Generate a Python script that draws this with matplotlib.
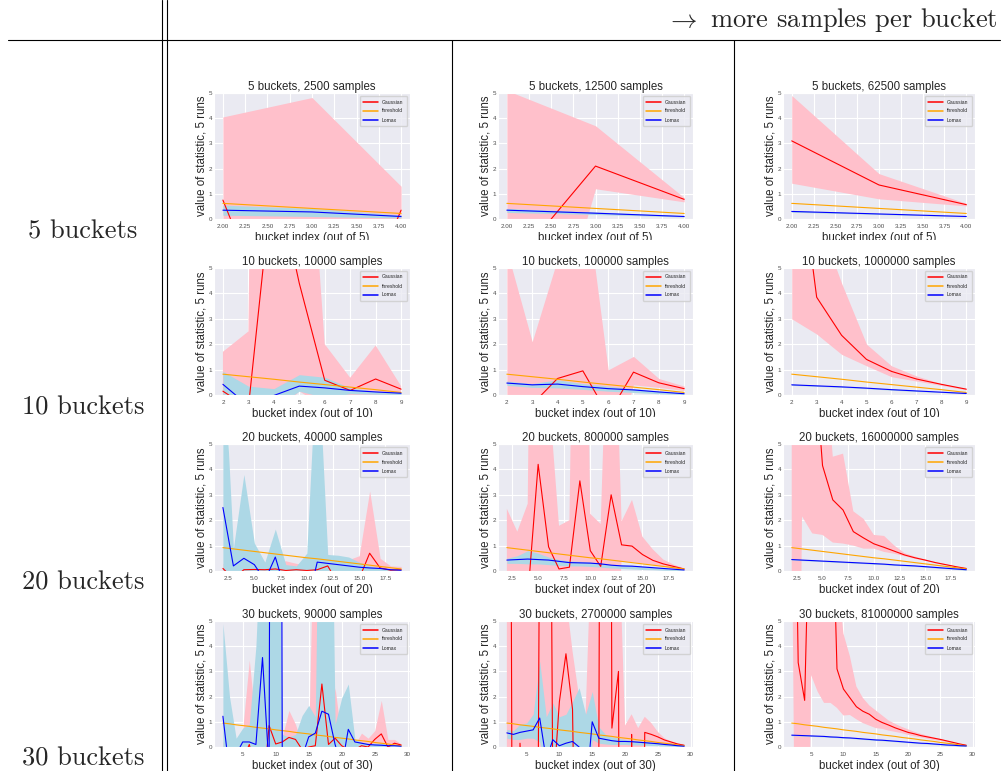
import matplotlib
matplotlib.use("Agg")
import matplotlib.pyplot as plt
from matplotlib.lines import Line2D
from matplotlib.transforms import Bbox, TransformedBbox
import seaborn as sns

# bucket indices per bucket count
x_5 = [2, 3, 4]
x_10 = list(range(2, 10))
x_20 = list(range(2, 20))
x_30 = list(range(2, 30))

# threshold curves
thresh_5 = [0.62, 0.42, 0.22]
thresh_10 = [0.82, 0.72, 0.62, 0.51, 0.41, 0.31, 0.21, 0.10]
thresh_20 = [0.92, 0.87, 0.82, 0.77, 0.72, 0.67, 0.62, 0.57, 0.52, 0.48, 0.43, 0.38,
             0.33, 0.28, 0.23, 0.18, 0.13, 0.08]
thresh_30 = [0.95, 0.92, 0.88, 0.85, 0.82, 0.78, 0.75, 0.72, 0.68, 0.65, 0.62, 0.58,
             0.55, 0.52, 0.48, 0.45, 0.42, 0.38, 0.35, 0.32, 0.28, 0.25, 0.22, 0.18,
             0.15, 0.12, 0.08, 0.05]

# 5 buckets, 2500 samples
a_g = [0.75, -8.0, 0.35]
a_g_lo = [-2.0, -10.0, -0.5]
a_g_hi = [4.05, 4.82, 1.30]
a_l = [0.35, 0.28, 0.10]
a_l_lo = [0.15, 0.10, 0.04]
a_l_hi = [0.55, 0.42, 0.16]

# 5 buckets, 12500 samples
b_g = [-2.1, 2.1, 0.78]
b_g_lo = [-10.8, 1.2, 0.68]
b_g_hi = [5.1, 3.7, 0.85]
b_l = [0.35, 0.23, 0.10]
b_l_lo = [0.26, 0.18, 0.08]
b_l_hi = [0.42, 0.28, 0.13]

# 5 buckets, 62500 samples
c_g = [3.1, 1.35, 0.57]
c_g_lo = [1.42, 0.80, 0.52]
c_g_hi = [4.9, 1.8, 0.62]
c_l = [0.30, 0.20, 0.10]
c_l_lo = [0.27, 0.18, 0.09]
c_l_hi = [0.33, 0.22, 0.11]

# 10 buckets, 10000 samples
d_g = [0.15, -0.5, 9.0, 4.4, 0.58, 0.18, 0.63, 0.23]
d_g_lo = [-1.0, -1.5, -1.0, 0.15, -0.5, -0.2, -0.3, -0.1]
d_g_hi = [1.7, 2.5, 80.0, 16.3, 2.0, 0.68, 1.95, 0.35]
d_l = [0.42, -0.42, -0.02, 0.35, 0.28, 0.18, 0.12, 0.07]
d_l_lo = [-0.5, -1.0, -0.5, 0.15, -0.1, 0.05, 0.03, 0.02]
d_l_hi = [0.93, 0.35, 0.25, 0.80, 0.70, 0.28, 0.15, 0.10]

# 10 buckets, 100000 samples
e_g = [-2.0, -0.37, 0.65, 0.95, -0.78, 0.90, 0.48, 0.25]
e_g_lo = [-3.0, -2.0, -1.0, -0.5, -3.0, 0.40, 0.30, 0.18]
e_g_hi = [5.7, 2.1, 5.35, 8.7, 0.99, 1.52, 0.65, 0.35]
e_l = [0.47, 0.40, 0.43, 0.33, 0.25, 0.20, 0.12, 0.05]
e_l_lo = [0.38, 0.30, 0.28, 0.22, 0.15, 0.10, 0.05, 0.02]
e_l_hi = [0.55, 0.45, 0.60, 0.45, 0.35, 0.25, 0.15, 0.08]

# 10 buckets, 1000000 samples
f_g = [11.5, 3.85, 2.35, 1.40, 0.93, 0.63, 0.42, 0.23]
f_g_lo = [3.0, 2.4, 1.6, 1.15, 0.72, 0.55, 0.38, 0.20]
f_g_hi = [9.0, 7.1, 4.4, 2.0, 1.15, 0.75, 0.45, 0.25]
f_l = [0.40, 0.36, 0.32, 0.27, 0.21, 0.16, 0.11, 0.06]
f_l_lo = [0.38, 0.34, 0.30, 0.25, 0.19, 0.14, 0.10, 0.05]
f_l_hi = [0.43, 0.38, 0.34, 0.29, 0.23, 0.18, 0.12, 0.07]

# 20 buckets, 40000 samples
g_g = [0.10, -0.3, 0.05, 0.06, 0.05, 0.08, 0.02, 0.05, 0.02, 0.05, 0.20, -0.5,
       -0.5, -0.3, 0.70, 0.12, 0.03, 0.05]
g_g_lo = [-0.4, -0.6, -0.3, -0.3, -0.3, -0.3, -0.3, -0.3, -0.3, -0.3, -0.2, -0.8,
          -0.8, -0.6, -0.2, -0.2, -0.2, -0.1]
g_g_hi = [0.30, 0.20, 0.25, 0.30, 0.20, 0.35, 0.40, 0.30, 0.25, 0.30, 0.35, 0.20,
          0.45, 0.60, 3.15, 0.50, 0.20, 0.18]
g_l = [2.5, 0.2, 0.5, 0.25, -0.375, 0.55, -0.85, -1.0, -1.4, 0.35, 0.30, 0.25,
       0.20, 0.15, 0.12, 0.10, 0.05, 0.03]
g_l_lo = [-0.5, -0.5, -0.3, -0.3, -0.8, -0.3, -1.2, -1.5, -2.0, -0.2, -0.1, -0.1,
          -0.1, -0.1, -0.1, -0.05, -0.05, -0.05]
g_l_hi = [9.0, 0.9, 3.8, 1.1, 0.35, 1.65, 0.25, 0.2, 0.7, 9.0, 0.65, 0.62,
          0.55, 0.35, 0.20, 0.12, 0.10, 0.08]

# 20 buckets, 800000 samples
h_g = [-2.0, -1.5, -1.05, 4.2, 0.95, 0.08, 0.15, 3.55, 0.80, 0.18, 3.0, 1.03,
       0.98, 0.65, 0.42, 0.28, 0.18, 0.08]
h_g_lo = [-3.0, -3.0, -3.0, -1.0, -0.5, -0.5, -0.5, -0.5, -0.5, -0.5, -8.0, 0.40,
          0.35, 0.30, 0.25, 0.18, 0.10, 0.05]
h_g_hi = [2.45, 1.55, 2.65, 40.0, 7.15, 1.78, 2.0, 30.0, 2.25, 1.85, 15.0, 1.95,
          2.8, 1.35, 0.85, 0.45, 0.25, 0.10]
h_l = [0.43, 0.45, 0.47, 0.45, 0.43, 0.38, 0.33, 0.32, 0.31, 0.28, 0.23, 0.20,
       0.19, 0.16, 0.13, 0.10, 0.07, 0.04]
h_l_lo = [0.30, 0.30, 0.28, 0.28, 0.25, 0.22, 0.20, 0.20, 0.18, 0.15, 0.12, 0.10,
          0.08, 0.06, 0.05, 0.03, 0.02, 0.01]
h_l_hi = [0.50, 0.60, 0.80, 0.70, 0.55, 0.45, 0.40, 0.38, 0.35, 0.30, 0.25, 0.25,
          0.22, 0.18, 0.15, 0.10, 0.07, 0.04]

# 20 buckets, 16000000 samples
i_g = [12.0, 20.0, 9.5, 4.15, 2.8, 2.4, 1.55, 1.3, 1.07, 0.93, 0.78, 0.63,
       0.52, 0.43, 0.33, 0.25, 0.17, 0.10]
i_g_lo = [-40.0, 2.15, 1.48, 1.42, 1.12, 1.08, 1.0, 0.88, 0.88, 0.75, 0.68, 0.58,
          0.48, 0.40, 0.32, 0.24, 0.16, 0.08]
i_g_hi = [30.0, 30.0, 20.0, 9.5, 4.5, 4.62, 2.35, 2.05, 1.42, 1.38, 1.0, 0.70,
          0.57, 0.45, 0.35, 0.27, 0.18, 0.10]
i_l = [0.45, 0.43, 0.41, 0.39, 0.37, 0.35, 0.33, 0.31, 0.29, 0.27, 0.24, 0.22,
       0.20, 0.17, 0.14, 0.11, 0.08, 0.05]
i_l_lo = [0.43, 0.41, 0.39, 0.37, 0.35, 0.33, 0.31, 0.29, 0.27, 0.25, 0.22, 0.20,
          0.18, 0.15, 0.12, 0.09, 0.06, 0.03]
i_l_hi = [0.47, 0.45, 0.43, 0.41, 0.39, 0.37, 0.35, 0.33, 0.31, 0.29, 0.26, 0.24,
          0.22, 0.19, 0.16, 0.13, 0.10, 0.07]

# 30 buckets, 90000 samples
j_g = [-1.0, -1.0, -1.0, -0.5, 0.10, -1.0, -2.0, 0.85, 0.12, 0.20, 0.38, 0.30,
       -0.10, 0.0, 0.05, 2.5, 0.10, 0.35, 0.05, -0.10, -0.10, 0.05, 0.0, 0.30,
       0.52, 0.0, 0.15, 0.08]
j_g_lo = [-2.0, -2.0, -2.0, -1.0, -0.5, -2.0, -3.0, -0.5, -0.5, -0.5, -0.5, -0.5,
          -1.0, -1.0, -0.5, -0.5, -0.5, -0.5, -0.5, -1.0, -1.0, -0.5, -0.5, -0.5,
          -0.5, -0.5, -0.3, -0.2]
j_g_hi = [0.2, 0.2, 0.1, 0.7, 3.45, 0.8, 0.5, 0.9, 0.3, 0.4, 1.45, 0.9,
          0.1, 0.3, 12.0, 3.0, 0.15, 2.35, 0.25, 0.2, 0.1, 0.55, 0.35, 0.65,
          1.85, 0.3, 0.3, 0.12]
j_l = [1.22, -1.0, -0.3, 0.20, 0.20, 0.10, 3.55, -0.89, 100.0, -1.0, -1.0, -1.0,
       -0.4, 0.40, 0.55, 1.42, 1.30, 0.10, -0.80, 0.70, 0.20, 0.15, 0.10, 0.08,
       0.07, 0.05, 0.05, 0.03]
j_l_lo = [-1.0, -2.0, -1.0, -0.5, -0.5, -0.5, -0.5, -2.0, -1.0, -2.0, -2.0, -2.0,
          -1.0, -0.5, -0.5, -0.5, -0.5, -1.0, -1.5, -0.5, -0.3, -0.2, -0.2, -0.1,
          -0.1, -0.1, -0.1, -0.1]
j_l_hi = [4.9, 2.0, 0.35, 0.75, 0.9, 4.0, 10.0, 20.0, 20.0, 0.5, 0.4, 0.5,
          1.25, 1.65, 1.2, 20.0, 20.0, 0.9, 1.95, 2.5, 0.3, 0.2, 0.15, 0.15,
          0.15, 0.1, 0.08, 0.05]

# 30 buckets, 2700000 samples
k_g = [60.0, -20.0, 0.15, -5.0, -40.0, 10.0, 40.0, -2.0, 1.8, 3.7, 1.5, -15.0,
       -15.0, -10.0, -1.0, 80.0, 0.75, 3.0, -60.0, 0.5, -30.0, 0.58, 0.50, 0.40,
       0.28, 0.20, 0.12, 0.07]
k_g_lo = [-30.0, -30.0, -10.0, -10.0, -50.0, -5.0, -5.0, -5.0, -1.0, -1.0, -1.0, -20.0,
          -20.0, -15.0, -5.0, -5.0, -1.0, -1.0, -70.0, -1.0, -40.0, 0.20, 0.15, 0.12,
          0.10, 0.08, 0.05, 0.03]
k_g_hi = [70.0, 9.0, 9.0, 9.0, 9.0, 15.0, 50.0, 9.0, 9.0, 6.0, 3.8, 2.0,
          1.3, 9.0, 9.0, 90.0, 9.0, 9.0, 0.85, 1.3, 0.75, 1.2, 0.95, 0.60,
          0.35, 0.22, 0.15, 0.08]
k_l = [0.56, 0.50, 0.58, 0.63, 0.68, 1.15, -0.5, 0.29, 0.05, 0.15, 0.22, 0.0,
       -2.0, 1.0, 0.35, 0.30, 0.25, 0.22, 0.22, 0.21, 0.19, 0.17, 0.15, 0.13,
       0.10, 0.08, 0.05, 0.03]
k_l_lo = [0.35, 0.30, 0.30, 0.35, 0.35, 0.20, -1.0, -0.3, -0.5, -0.3, -0.3, -0.5,
          -3.0, 0.30, 0.15, 0.12, 0.10, 0.10, 0.10, 0.08, 0.08, 0.07, 0.06, 0.05,
          0.04, 0.03, 0.02, 0.01]
k_l_hi = [0.70, 0.65, 0.90, 0.95, 1.30, 3.40, 1.20, 1.75, 1.20, 1.30, 1.80, 2.35,
          1.30, 2.20, 0.80, 0.50, 0.40, 0.35, 0.30, 0.28, 0.25, 0.22, 0.20, 0.17,
          0.14, 0.11, 0.07, 0.04]

# 30 buckets, 81000000 samples
l_g = [20.0, 3.35, 1.85, 12.35, 15.0, 12.0, 12.6, 3.1, 2.3, 1.95, 1.6, 1.42,
       1.3, 1.1, 0.97, 0.87, 0.76, 0.67, 0.58, 0.52, 0.45, 0.40, 0.35, 0.30,
       0.24, 0.18, 0.12, 0.07]
l_g_lo = [10.0, -20.0, -20.0, 2.85, 2.2, 1.75, 1.75, 1.55, 1.25, 1.27, 1.1, 0.95,
          0.85, 0.75, 0.72, 0.65, 0.60, 0.55, 0.48, 0.42, 0.38, 0.33, 0.28, 0.24,
          0.20, 0.15, 0.10, 0.06]
l_g_hi = [30.0, 30.0, 30.0, 30.0, 30.0, 20.0, 12.0, 7.0, 4.5, 3.6, 2.4, 1.95,
          1.65, 1.45, 1.25, 1.05, 0.92, 0.80, 0.70, 0.60, 0.52, 0.45, 0.38, 0.32,
          0.26, 0.20, 0.13, 0.08]
l_l = [0.47, 0.46, 0.45, 0.44, 0.43, 0.42, 0.40, 0.39, 0.37, 0.36, 0.34, 0.32,
       0.30, 0.28, 0.27, 0.25, 0.23, 0.21, 0.19, 0.17, 0.15, 0.14, 0.12, 0.10,
       0.08, 0.07, 0.05, 0.04]
l_l_lo = [0.45, 0.44, 0.43, 0.42, 0.41, 0.40, 0.38, 0.37, 0.35, 0.34, 0.32, 0.30,
          0.28, 0.26, 0.25, 0.23, 0.21, 0.19, 0.17, 0.15, 0.13, 0.12, 0.10, 0.08,
          0.06, 0.05, 0.03, 0.02]
l_l_hi = [0.49, 0.48, 0.47, 0.46, 0.45, 0.44, 0.42, 0.41, 0.39, 0.38, 0.36, 0.34,
          0.32, 0.30, 0.29, 0.27, 0.25, 0.23, 0.21, 0.19, 0.17, 0.16, 0.14, 0.12,
          0.10, 0.09, 0.07, 0.06]

bucket_counts = [5, 10, 20, 30]
sample_counts = [[2500, 12500, 62500],
                 [10000, 100000, 1000000],
                 [40000, 800000, 16000000],
                 [90000, 2700000, 81000000]]
row_labels = ["5 buckets", "10 buckets", "20 buckets", "30 buckets"]
header = r"$\rightarrow$ more samples per bucket"

xticks = {5: [2.0, 2.25, 2.5, 2.75, 3.0, 3.25, 3.5, 3.75, 4.0],
          10: [2, 3, 4, 5, 6, 7, 8, 9],
          20: [2.5, 5.0, 7.5, 10.0, 12.5, 15.0, 17.5],
          30: [5, 10, 15, 20, 25, 30]}
xs = {5: x_5, 10: x_10, 20: x_20, 30: x_30}
ths = {5: thresh_5, 10: thresh_10, 20: thresh_20, 30: thresh_30}

panels = [[(a_g, a_g_lo, a_g_hi, a_l, a_l_lo, a_l_hi),
           (b_g, b_g_lo, b_g_hi, b_l, b_l_lo, b_l_hi),
           (c_g, c_g_lo, c_g_hi, c_l, c_l_lo, c_l_hi)],
          [(d_g, d_g_lo, d_g_hi, d_l, d_l_lo, d_l_hi),
           (e_g, e_g_lo, e_g_hi, e_l, e_l_lo, e_l_hi),
           (f_g, f_g_lo, f_g_hi, f_l, f_l_lo, f_l_hi)],
          [(g_g, g_g_lo, g_g_hi, g_l, g_l_lo, g_l_hi),
           (h_g, h_g_lo, h_g_hi, h_l, h_l_lo, h_l_hi),
           (i_g, i_g_lo, i_g_hi, i_l, i_l_lo, i_l_hi)],
          [(j_g, j_g_lo, j_g_hi, j_l, j_l_lo, j_l_hi),
           (k_g, k_g_lo, k_g_hi, k_l, k_l_lo, k_l_hi),
           (l_g, l_g_lo, l_g_hi, l_l, l_l_lo, l_l_hi)]]

sns.set_style("darkgrid")
plt.rcParams["font.family"] = ["Liberation Sans", "DejaVu Sans"]
plt.rcParams["mathtext.fontset"] = "cm"

W, H = 1005, 771
fig = plt.figure(figsize=(W / 100, H / 100), dpi=100)
fig.patch.set_facecolor("white")

# pixel boxes of the small plots
col_left = [214, 498, 783]
col_right = [410, 693, 975]
row_top = [93, 268, 444, 621]
row_bot = [219, 395, 571, 747]
clip_y = [240, 417, 593, 771]

for r, n in enumerate(bucket_counts):
    x = xs[n]
    for c in range(3):
        g, g_lo, g_hi, l, l_lo, l_hi = panels[r][c]
        ax = fig.add_axes([col_left[c] / W, 1 - row_bot[r] / H,
                           (col_right[c] - col_left[c]) / W,
                           (row_bot[r] - row_top[r]) / H])
        ax.fill_between(x, g_lo, g_hi, color="pink", lw=0)
        ax.fill_between(x, l_lo, l_hi, color="lightblue", lw=0)
        ax.plot(x, g, color="red", lw=0.8, label="Gaussian")
        ax.plot(x, ths[n], color="orange", lw=0.8, label="threshold")
        ax.plot(x, l, color="blue", lw=0.8, label="Lomax")
        ax.set_ylim(0, 5)
        ax.set_yticks([0, 1, 2, 3, 4, 5])
        ax.set_xticks(xticks[n])
        ax.margins(x=0.05)
        ax.grid(True, color="white", lw=0.8)
        ax.tick_params(labelsize=4.5, length=0, colors=".3")
        ax.tick_params(axis="x", pad=3.5)
        ax.tick_params(axis="y", pad=1.5)
        ax.set_title(f"{n} buckets, {sample_counts[r][c]} samples",
                     fontsize=8.3, pad=2.5, color=".15")
        ax.set_ylabel("value of statistic, 5 runs", fontsize=8.3, labelpad=1,
                      color=".15")
        ax.set_xlabel(f"bucket index (out of {n})", fontsize=8.3, labelpad=2.2,
                      color=".15")
        clip = TransformedBbox(Bbox.from_extents(0, 1 - clip_y[r] / H, 1, 1),
                               fig.transFigure)
        ax.xaxis.label.set_clip_box(clip)
        ax.xaxis.label.set_clip_on(True)
        leg = ax.legend(loc="upper right", fontsize=3.6, handlelength=3.0,
                        labelspacing=0.8, borderpad=0.7, borderaxespad=0.6)
        for hl in leg.get_lines():
            hl.set_linewidth(1.1)

# table rules
black = dict(color="black", lw=0.8, transform=fig.transFigure)
fig.add_artist(Line2D([8 / W, 1000 / W], [1 - 40 / H, 1 - 40 / H], **black))
for xp in [162, 167]:
    fig.add_artist(Line2D([xp / W, xp / W], [0, 1], **black))
for xp in [452, 734]:
    fig.add_artist(Line2D([xp / W, xp / W], [0, 1 - 40 / H], **black))

fig.text(998 / W, 1 - 20 / H, header, ha="right", va="center",
         fontsize=19, family="cmr10")
for lab, yp in zip(row_labels, [232, 408, 583, 759]):
    fig.text(83 / W, 1 - yp / H, lab, ha="center", va="center",
             fontsize=19, family="cmr10")

fig.savefig("out.png", dpi=100)
